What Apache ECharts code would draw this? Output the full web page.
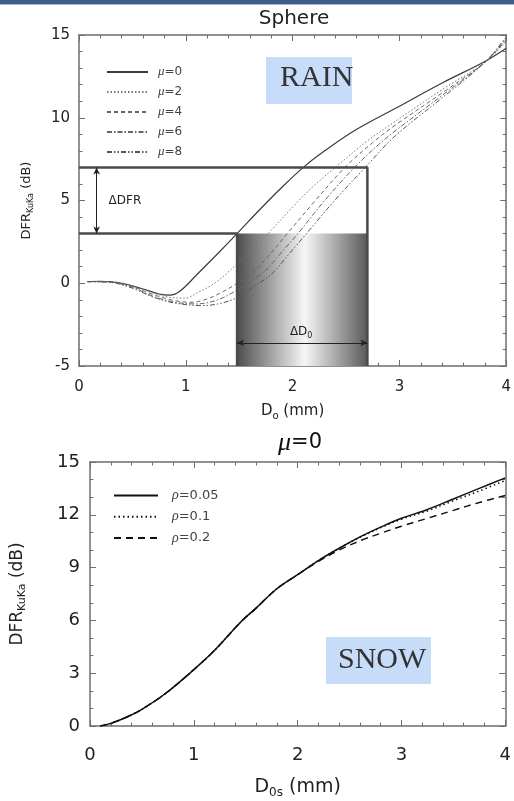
<!DOCTYPE html>
<html>
<head>
<meta charset="utf-8">
<script src="https://cdn.jsdelivr.net/npm/echarts@6/dist/echarts.min.js"></script>
<style>
  html, body { margin: 0; padding: 0; background: #fff; }
  #main { width: 514px; height: 801px; }
</style>
</head>
<body>
<div id="main"></div>
<script>
// ---- top panel: rain, sphere, DFR vs D0 for several mu ----
var muNames = ['μ=0', 'μ=2', 'μ=4', 'μ=6', 'μ=8'];
var rainMu0 = [[0.08,0.1],[0.2,0.12],[0.4,0.0],[0.6,-0.35],[0.75,-0.65],[0.85,-0.72],[0.95,-0.45],[1.1,0.5],[1.3,1.8],[1.48,3.0],[1.7,4.5],[1.9,5.8],[2.1,7.0],[2.3,8.0],[2.6,9.3],[3.0,10.7],[3.4,12.1],[3.8,13.4],[4.0,14.2]];
var rainMu2 = [[0.08,0.1],[0.3,0.1],[0.5,-0.15],[0.7,-0.6],[0.85,-0.85],[1.0,-0.9],[1.1,-0.6],[1.27,0.0],[1.47,1.1],[1.6,1.9],[1.77,3.0],[2.0,4.6],[2.2,5.9],[2.4,7.0],[2.7,8.6],[3.0,9.95],[3.4,11.7],[3.8,13.35],[4.0,14.6]];
var rainMu4 = [[0.08,0.1],[0.3,0.08],[0.5,-0.2],[0.7,-0.7],[0.9,-1.05],[1.05,-1.15],[1.2,-0.95],[1.35,-0.5],[1.47,-0.05],[1.62,0.6],[1.78,1.7],[1.95,3.0],[2.2,4.9],[2.49,7.0],[2.75,8.5],[2.96,9.55],[3.4,11.5],[3.8,13.35],[4.0,14.7]];
var rainMu6 = [[0.08,0.1],[0.3,0.06],[0.5,-0.25],[0.7,-0.8],[0.9,-1.15],[1.1,-1.25],[1.3,-1.0],[1.47,-0.45],[1.6,0.1],[1.75,0.8],[1.9,1.9],[2.05,3.0],[2.3,5.0],[2.58,7.0],[2.8,8.35],[2.96,9.2],[3.4,11.35],[3.8,13.35],[4.0,14.8]];
var rainMu8 = [[0.08,0.1],[0.3,0.05],[0.5,-0.3],[0.7,-0.85],[0.9,-1.2],[1.15,-1.35],[1.3,-1.25],[1.47,-0.9],[1.65,-0.15],[1.81,0.6],[1.97,1.8],[2.13,3.0],[2.4,5.05],[2.68,7.0],[2.96,8.9],[3.4,11.2],[3.8,13.35],[4.0,14.9]];

var dfrBand = [3, 7];        // ΔDFR lines
var d0Band = [1.48, 2.7];    // ΔD0 box
var dfrArrowX = 0.165;
var d0ArrowY = -3.6;

// ---- bottom panel: snow, mu=0, several rho ----
var rhoNames = ['ρ=0.05', 'ρ=0.1', 'ρ=0.2'];
var snowRho005 = [[0.1,0.0],[0.2,0.15],[0.35,0.5],[0.5,0.95],[0.73,1.86],[1.0,3.2],[1.2,4.3],[1.45,5.9],[1.6,6.7],[1.8,7.8],[2.0,8.6],[2.2,9.4],[2.4,10.1],[2.62,10.8],[2.8,11.3],[3.0,11.8],[3.25,12.3],[3.5,12.9],[3.75,13.5],[4.0,14.1]];
var snowRho01 = [[0.1,0.0],[0.2,0.15],[0.35,0.5],[0.5,0.95],[0.73,1.86],[1.0,3.2],[1.2,4.3],[1.45,5.9],[1.6,6.7],[1.8,7.8],[2.0,8.6],[2.2,9.4],[2.4,10.1],[2.62,10.78],[2.8,11.27],[3.0,11.75],[3.25,12.22],[3.5,12.8],[3.75,13.35],[4.0,13.95]];
var snowRho02 = [[0.1,0.0],[0.2,0.15],[0.35,0.5],[0.5,0.95],[0.73,1.86],[1.0,3.2],[1.2,4.3],[1.45,5.9],[1.6,6.7],[1.8,7.8],[2.0,8.6],[2.2,9.35],[2.4,10.0],[2.62,10.57],[2.8,10.95],[3.0,11.35],[3.25,11.8],[3.5,12.25],[3.75,12.7],[4.0,13.1]];

var dRange = [0, 4];
var rainYRange = [-5, 15], rainYStep = 5;
var snowYRange = [0, 15], snowYStep = 3;

var FONT = 'DejaVu Sans';
var SERIF = 'Liberation Serif';
var axisCol = '#6e6e6e';

var chart = echarts.init(document.getElementById('main'));

function subRich(fs, sfs) {
  return {
    a: { fontFamily: FONT, fontSize: fs, color: '#222', lineHeight: fs + 4 },
    s: { fontFamily: FONT, fontSize: sfs, color: '#222', lineHeight: sfs + 2, verticalAlign: 'bottom' }
  };
}

function xAx(grid, pos, fs, margin, name, gap, nfs) {
  var main = pos === 'bottom';
  return {
    type: 'value', gridIndex: grid, position: pos,
    min: dRange[0], max: dRange[1], interval: 1,
    axisLine: { show: true, onZero: false, lineStyle: { color: axisCol, width: 1.5 } },
    axisTick: { show: true, inside: true, length: 6, lineStyle: { color: axisCol } },
    minorTick: { show: true, splitNumber: 5, length: 3.5, lineStyle: { color: axisCol } },
    splitLine: { show: false },
    axisLabel: { show: main, fontFamily: FONT, fontSize: fs, color: '#222', margin: margin },
    name: main ? name : '', nameLocation: 'middle', nameGap: gap,
    nameTextStyle: { rich: subRich(nfs, Math.round(nfs * 0.65)) }
  };
}

function yAx(grid, pos, range, step, fs, margin, name, gap, nfs) {
  var main = pos === 'left';
  return {
    type: 'value', gridIndex: grid, position: pos,
    min: range[0], max: range[1], interval: step,
    axisLine: { show: true, onZero: false, lineStyle: { color: axisCol, width: 1.5 } },
    axisTick: { show: true, inside: true, length: 6, lineStyle: { color: axisCol } },
    minorTick: { show: true, splitNumber: step, length: 3.5, lineStyle: { color: axisCol } },
    splitLine: { show: false },
    axisLabel: { show: main, fontFamily: FONT, fontSize: fs, color: '#222', margin: margin },
    name: main ? name : '', nameLocation: 'middle', nameGap: gap, nameRotate: 90,
    nameTextStyle: { rich: subRich(nfs, Math.round(nfs * 0.65)) }
  };
}

function curve(name, data, xi, yi, color, width, dash) {
  return {
    name: name, type: 'line', xAxisIndex: xi, yAxisIndex: yi, data: data,
    smooth: 0.35, showSymbol: false, symbol: 'none', z: 3, silent: true,
    itemStyle: { color: color },
    lineStyle: { color: color, width: width, type: dash }
  };
}

function greekFmt(name) {
  return '{g|' + name.charAt(0) + '}{t|' + name.slice(1) + '}';
}

function legendOf(names, left, top, iw, gap, fs, pad) {
  return {
    data: names, orient: 'vertical', left: left, top: top, padding: 0,
    itemWidth: iw, itemHeight: 14, itemGap: gap, selectedMode: false,
    itemStyle: { opacity: 0 },
    formatter: greekFmt,
    textStyle: {
      color: '#444', lineHeight: 14,
      rich: {
        g: { fontFamily: SERIF, fontStyle: 'italic', fontSize: fs + 1, color: '#444', lineHeight: 14, padding: [0, 0, 0, pad] },
        t: { fontFamily: FONT, fontSize: fs, color: '#444', lineHeight: 14 }
      }
    }
  };
}

var yMin = rainYRange[0];

var option = {
  animation: false,
  backgroundColor: '#fff',
  grid: [
    { left: 79, top: 35, width: 430, height: 331 },
    { left: 90, top: 462, width: 422, height: 264 }
  ],
  xAxis: [
    xAx(0, 'bottom', 15, 14, '{a|D}{s|o}{a| (mm)}', 36, 15),
    xAx(0, 'top'),
    xAx(1, 'bottom', 18, 20, '{a|D}{s|0s}{a| (mm)}', 50, 19),
    xAx(1, 'top')
  ],
  yAxis: [
    yAx(0, 'left', rainYRange, rainYStep, 15, 9, '{a|DFR}{s|KuKa}{a| (dB)}', 44, 13),
    yAx(0, 'right', rainYRange, rainYStep),
    yAx(1, 'left', snowYRange, snowYStep, 18, 10, '{a|DFR}{s|KuKa}{a| (dB)}', 62, 17),
    yAx(1, 'right', snowYRange, snowYStep)
  ],
  legend: [
    legendOf(muNames, 106, 65, 41, 6, 12, 5),
    legendOf(rhoNames, 113, 488.5, 44, 7.3, 13, 9)
  ],
  graphic: [
    { type: 'rect', shape: { x: 0, y: 0, width: 514, height: 4 }, style: { fill: '#3e5f8e' } },
    { type: 'rect', shape: { x: 0, y: 4, width: 514, height: 1 }, style: { fill: '#a9b9d2' } },
    { type: 'text', x: 294, y: 19, style: { text: 'Sphere', font: '20px "DejaVu Sans"', fill: '#222', align: 'center', verticalAlign: 'middle' } },
    { type: 'text', x: 300, y: 443, style: {
        text: '{i|μ}{t|=0}', align: 'center', verticalAlign: 'middle',
        rich: {
          i: { fontFamily: SERIF, fontStyle: 'italic', fontSize: 26, fill: '#111' },
          t: { fontFamily: FONT, fontSize: 21, fill: '#111' }
        } } },
    { type: 'rect', shape: { x: 266, y: 57, width: 86, height: 47 }, style: { fill: '#c7dcf9' }, z: 5 },
    { type: 'text', x: 280, y: 78, z: 6, style: { text: 'RAIN', font: '30px "Liberation Serif"', fill: '#333', align: 'left', verticalAlign: 'middle' } },
    { type: 'rect', shape: { x: 326, y: 637, width: 105, height: 47 }, style: { fill: '#c7dcf9' }, z: 5 },
    { type: 'text', x: 338, y: 660, z: 6, style: { text: 'SNOW', font: '30px "Liberation Serif"', fill: '#333', align: 'left', verticalAlign: 'middle' } }
  ],
  series: [
    // shaded ΔD0 region
    {
      type: 'line', xAxisIndex: 0, yAxisIndex: 0, data: [[d0Band[0], yMin]], symbol: 'none',
      lineStyle: { width: 0 }, z: 1, silent: true,
      markArea: {
        silent: true,
        itemStyle: {
          color: new echarts.graphic.LinearGradient(0, 0, 1, 0, [
            { offset: 0, color: '#4e4e4e' },
            { offset: 0.52, color: '#f6f6f6' },
            { offset: 1, color: '#5a5a5a' }
          ])
        },
        data: [[{ coord: [d0Band[0], yMin] }, { coord: [d0Band[1], dfrBand[0]] }]]
      }
    },
    curve('μ=0', rainMu0, 0, 0, '#3a3a3a', 1.2, 'solid'),
    curve('μ=2', rainMu2, 0, 0, '#777', 1, [1.5, 2]),
    curve('μ=4', rainMu4, 0, 0, '#666', 1, [4, 3]),
    curve('μ=6', rainMu6, 0, 0, '#666', 1, [5, 2, 1.5, 2]),
    curve('μ=8', rainMu8, 0, 0, '#555', 1, [5, 2, 1.5, 2, 1.5, 2]),
    // ΔDFR / ΔD0 frame lines
    {
      type: 'line', xAxisIndex: 0, yAxisIndex: 0, symbol: 'none', z: 4, silent: true,
      data: [[dRange[0], dfrBand[1]], [d0Band[1], dfrBand[1]], [d0Band[1], yMin]],
      lineStyle: { color: '#4a4a4a', width: 2.5 },
      markLine: {
        silent: true, symbol: ['arrow', 'arrow'], symbolSize: [5, 7],
        lineStyle: { color: '#222', width: 1, type: 'solid' },
        label: { show: false },
        data: [
          [{ coord: [dfrArrowX, dfrBand[1]] }, { coord: [dfrArrowX, dfrBand[0]] }],
          [{ coord: [d0Band[0], d0ArrowY] }, { coord: [d0Band[1], d0ArrowY] }]
        ]
      },
      markPoint: {
        silent: true, symbol: 'rect', symbolSize: 1,
        itemStyle: { color: 'rgba(0,0,0,0)' },
        label: {
          show: true, position: 'inside', color: '#222',
          rich: subRich(12, 8)
        },
        data: [
          { coord: [0.43, 5], label: { formatter: '{a|ΔDFR}' } },
          { coord: [2.08, -2.95], label: { formatter: '{a|ΔD}{s|0}' } }
        ]
      }
    },
    {
      type: 'line', xAxisIndex: 0, yAxisIndex: 0, symbol: 'none', z: 4, silent: true,
      data: [[dRange[0], dfrBand[0]], [d0Band[0], dfrBand[0]], [d0Band[0], yMin]],
      lineStyle: { color: '#4a4a4a', width: 2.5 }
    },
    curve('ρ=0.05', snowRho005, 2, 2, '#111', 1.5, 'solid'),
    curve('ρ=0.1', snowRho01, 2, 2, '#111', 1.5, [1.5, 3]),
    curve('ρ=0.2', snowRho02, 2, 2, '#111', 1.5, [7, 5])
  ]
};

chart.setOption(option);
</script>
</body>
</html>
